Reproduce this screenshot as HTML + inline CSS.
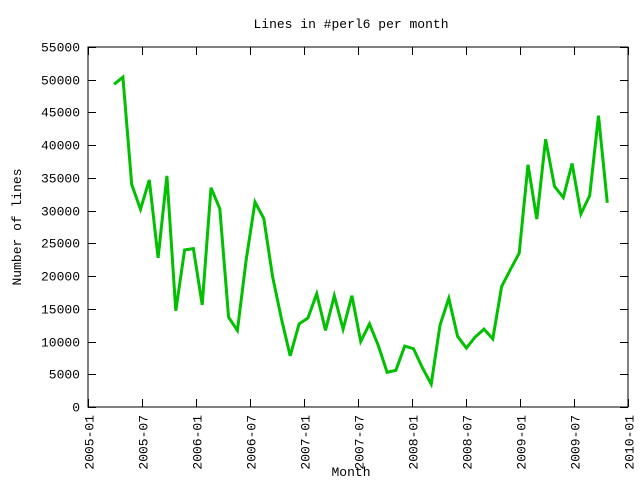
<!DOCTYPE html>
<html><head><meta charset="utf-8"><style>
body{margin:0;background:#fff;}
svg{display:block;font-family:"Liberation Mono",monospace;font-size:13px;}
</style></head><body>
<svg id="chart" width="640" height="480" xmlns="http://www.w3.org/2000/svg">
<text x="351" y="28" text-anchor="middle">Lines in #perl6 per month</text>
<text x="351" y="476" text-anchor="middle">Month</text>
<text transform="translate(21,227) rotate(-90)" text-anchor="middle">Number of lines</text>
<rect x="88" y="47" width="540" height="360" fill="none" stroke="#000" stroke-width="1"/>
<g id="axes"></g>
<polyline id="series" fill="none" stroke="#00c000" stroke-width="3" stroke-linejoin="miter"/>
</svg>
<script>
const months = ["2005-04","2005-05","2005-06","2005-07","2005-08","2005-09","2005-10","2005-11","2005-12","2006-01","2006-02","2006-03","2006-04","2006-05","2006-06","2006-07","2006-08","2006-09","2006-10","2006-11","2006-12","2007-01","2007-02","2007-03","2007-04","2007-05","2007-06","2007-07","2007-08","2007-09","2007-10","2007-11","2007-12","2008-01","2008-02","2008-03","2008-04","2008-05","2008-06","2008-07","2008-08","2008-09","2008-10","2008-11","2008-12","2009-01","2009-02","2009-03","2009-04","2009-05","2009-06","2009-07","2009-08","2009-09","2009-10","2009-11","2009-12"];
const lines = [49300,50400,34000,30200,34700,22800,35300,14700,24000,24200,15600,33500,30300,13700,11700,22500,31300,28800,19900,13500,7800,12700,13600,17300,11700,17000,11900,17000,10000,12700,9400,5300,5600,9300,8900,6000,3500,12500,16600,10800,9000,10700,11900,10400,18400,21000,23500,37000,28700,40900,33700,32000,37200,29500,32300,44500,31200];
const yTicks = [0,5000,10000,15000,20000,25000,30000,35000,40000,45000,50000,55000];
const xTicks = ["2005-01","2005-07","2006-01","2006-07","2007-01","2007-07","2008-01","2008-07","2009-01","2009-07","2010-01"];

const L=88,R=628,T=47,B=407,NS="http://www.w3.org/2000/svg";
function y(v){return B-(v/55000)*(B-T);}
function monthIdx(s){const p=s.split("-");return (+p[0]-2005)*12+(+p[1]-1);}
function xTick(s){return L+monthIdx(s)*(R-L)/60;}
// data points: sample times sit ~0.9 month into slot, slightly compressed spacing
function xData(i){const m0=monthIdx(months[0])-0.1, m1=monthIdx(months[months.length-1])-1.3;
  return L+(m0+(m1-m0)*i/(months.length-1))*(R-L)/60;}
const g=document.getElementById("axes");
function el(t,a){const e=document.createElementNS(NS,t);for(const k in a)e.setAttribute(k,a[k]);return e;}
yTicks.forEach(v=>{
  const yy=Math.round(y(v))+0.5;
  const t1=el("line",{x1:L,x2:L+8,y1:yy,y2:yy,stroke:"#000"});
  
  
  g.appendChild(t1);
  const t2=el("line",{x1:R-8,x2:R,y1:yy,y2:yy,stroke:"#000"});
  
  
  g.appendChild(t2);
  const tx=el("text",{x:80,y:yy+4,"text-anchor":"end"});
  tx.textContent=v;
  
  
  g.appendChild(tx);
});
xTicks.forEach(s=>{
  const xx=Math.round(xTick(s))+0.5;
  const t1=el("line",{x1:xx,x2:xx,y1:B-8,y2:B,stroke:"#000"});
  
  
  g.appendChild(t1);
  const t2=el("line",{x1:xx,x2:xx,y1:T,y2:T+8,stroke:"#000"});
  
  
  g.appendChild(t2);
  const tx=el("text",{transform:`translate(${xx+5},415) rotate(-90)`,"text-anchor":"end"});
  tx.textContent=s;
  
  
  g.appendChild(tx);
});
document.getElementById("series").setAttribute("points",lines.map((v,i)=>xData(i).toFixed(1)+","+y(v).toFixed(1)).join(" "));
</script>
</body></html>
